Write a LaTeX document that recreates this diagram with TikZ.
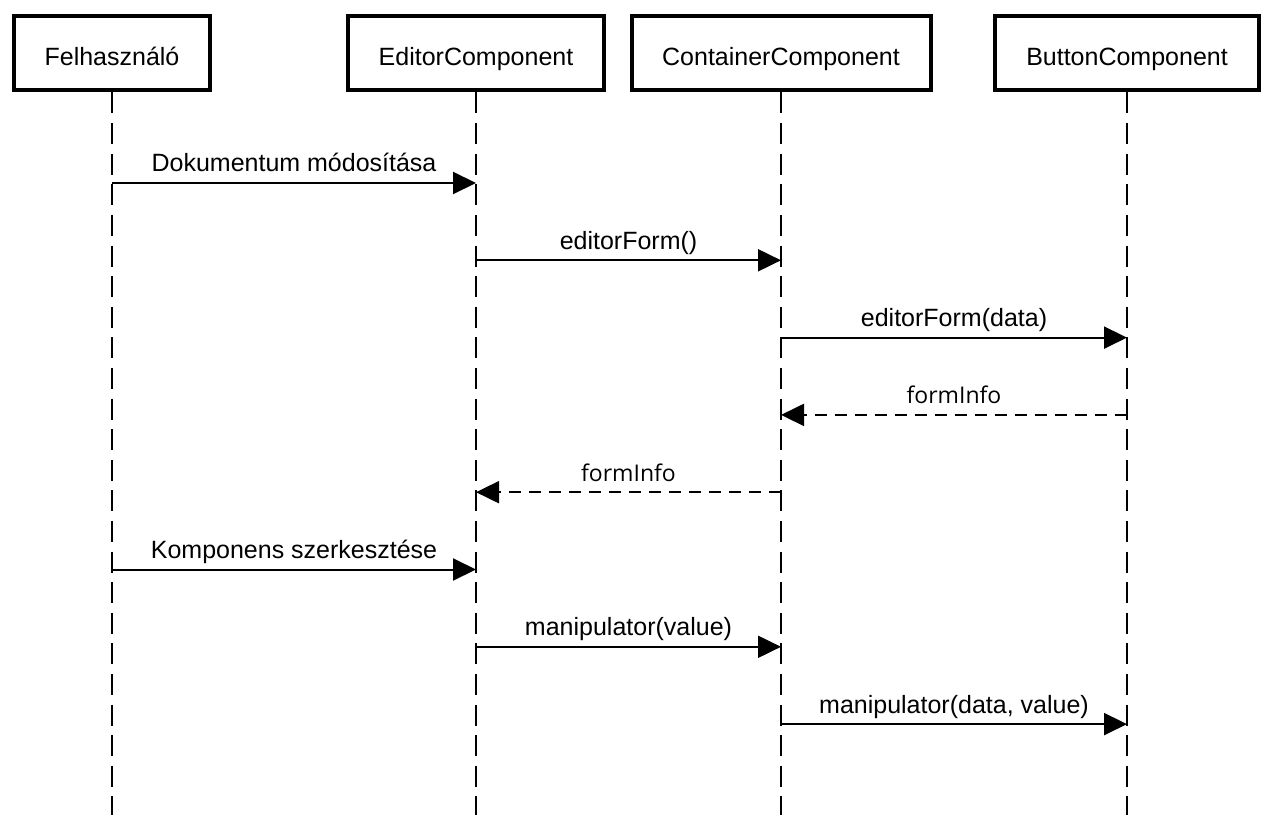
\documentclass[tikz,border=0pt]{standalone}
\usepackage{fontspec}
\setmainfont{Liberation Sans}
\newfontfamily\infofont{Open Sans}
\usetikzlibrary{arrows.meta}

\tikzset{
  lifebox/.style={draw, line width=2pt, minimum height=37.25pt, text height=12pt, text depth=0pt, font=\fontsize{12.5}{15}\selectfont},
  lifeline/.style={line width=1.25pt, dash pattern=on 10.5pt off 4.8pt},
  msg/.style={line width=1pt, -{Triangle[length=11.5pt,width=11pt]}},
  reply/.style={msg, dash pattern=on 6pt off 4pt},
  lbl/.style={anchor=base, yshift=5.5pt, inner sep=0pt, font=\fontsize{12.5}{15}\selectfont},
  infolbl/.style={lbl, font=\infofont\fontsize{11.5}{14}\selectfont}
}

\begin{document}
\begin{tikzpicture}[x=0.5pt, y=-0.5pt]
\useasboundingbox (0,0) rectangle (1272,818);

\node[lifebox, minimum width=98pt] (felh) at (112,53.25) {Felhasználó};
\node[lifebox, minimum width=128pt] (editor) at (476,53.25) {EditorComponent};
\node[lifebox, minimum width=149.5pt] (container) at (781,53.25) {ContainerComponent};
\node[lifebox, minimum width=131.75pt] (button) at (1127,53.25) {ButtonComponent};

\coordinate (bottom) at (0,815);
\foreach \n in {felh,editor,container,button}
  \draw[lifeline] (\n.south) -- (\n.south |- bottom);

\foreach \i in {1,...,8}
  \coordinate (m\i) at (0,{183+77.3*(\i-1)});

\draw[msg] (felh |- m1) -- node[lbl] {Dokumentum módosítása} (editor |- m1);
\draw[msg] (editor |- m2) -- node[lbl] {editorForm()} (container |- m2);
\draw[msg] (container |- m3) -- node[lbl] {editorForm(data)} (button |- m3);
\draw[reply] (button |- m4) -- node[infolbl] {formInfo} (container |- m4);
\draw[reply] (container |- m5) -- node[infolbl] {formInfo} (editor |- m5);
\draw[msg] (felh |- m6) -- node[lbl] {Komponens szerkesztése} (editor |- m6);
\draw[msg] (editor |- m7) -- node[lbl] {manipulator(value)} (container |- m7);
\draw[msg] (container |- m8) -- node[lbl] {manipulator(data, value)} (button |- m8);

\end{tikzpicture}
\end{document}
